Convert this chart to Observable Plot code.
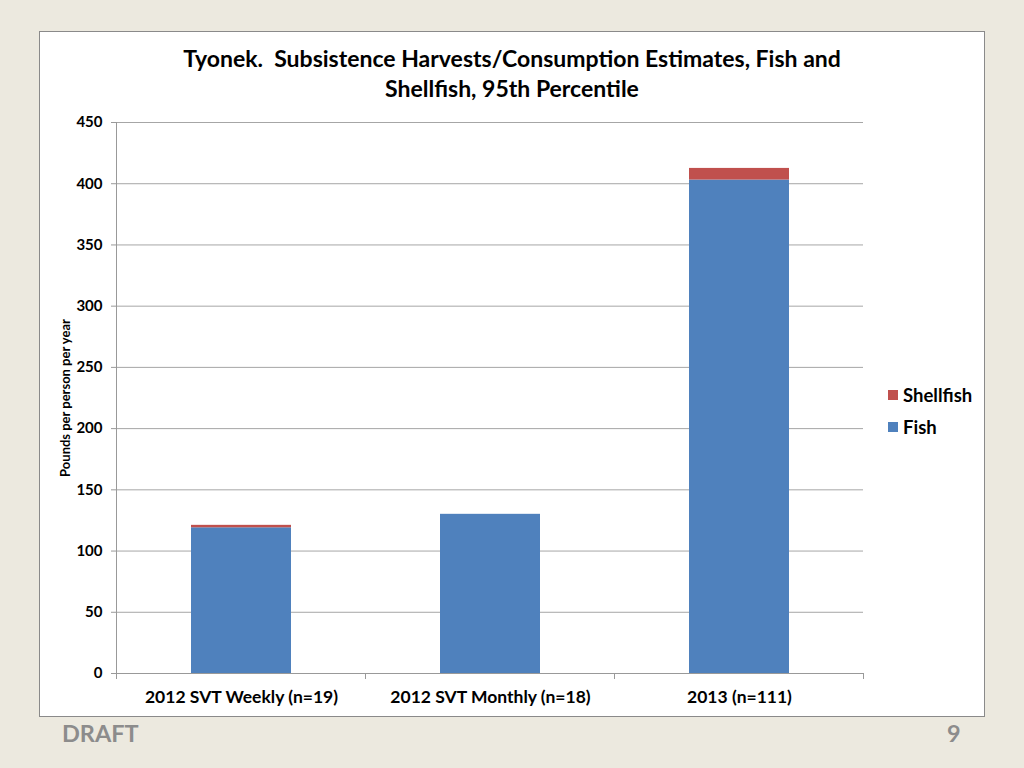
<!DOCTYPE html>
<html>
<head>
<meta charset="utf-8">
<script src="https://cdn.jsdelivr.net/npm/d3@7"></script>
<script src="https://cdn.jsdelivr.net/npm/@observablehq/plot@0.6"></script>
<style>
  html, body { margin: 0; padding: 0; }
  body { width: 1024px; height: 768px; background: #ECE9DF; position: relative; overflow: hidden; font-family: Lato, "Open Sans", sans-serif; }
  #box { position: absolute; left: 39px; top: 31px; width: 944px; height: 684px; background: #fff; border: 1px solid #8a8a8a; }
  #chart { position: absolute; left: 0; top: 0; }
  #title { position: absolute; left: 39px; width: 946px; top: 43px; text-align: center; font-weight: bold; font-size: 23px; line-height: 30px; color: #000; }
  #ylabel { position: absolute; left: 65px; top: 398px; transform: translate(-50%, -50%) rotate(-90deg); white-space: nowrap; font-weight: bold; font-size: 13px; color: #000; }
  .leg { position: absolute; left: 888px; font-weight: bold; font-size: 18.5px; color: #000; display: flex; align-items: center; }
  .leg span.sw { display: inline-block; width: 10px; height: 10px; margin-right: 5px; }
  #draft { position: absolute; left: 62px; top: 719px; font-weight: bold; font-size: 23.5px; color: #8c8c8c; }
  #page { position: absolute; left: 947px; top: 719px; font-weight: bold; font-size: 23.5px; color: #8c8c8c; }
</style>
</head>
<body>
<div id="box"></div>
<div id="title">Tyonek.&nbsp; Subsistence Harvests/Consumption Estimates, Fish and<br>Shellfish, 95th Percentile</div>
<div id="chart"></div>
<div id="ylabel">Pounds per person per year</div>
<div id="legend"></div>
<div id="draft">DRAFT</div>
<div id="page">9</div>
<script>
const categories = ["2012 SVT Weekly (n=19)", "2012 SVT Monthly (n=18)", "2013 (n=111)"];
const fish = [119, 130, 403];
const shellfish = [2, 0, 9.5];
const seriesNames = ["Fish", "Shellfish"];
const seriesColors = ["#4F81BD", "#C0504D"];
const yTicks = [0, 50, 100, 150, 200, 250, 300, 350, 400, 450];

const rows = [];
categories.forEach((c, i) => rows.push({category: c, series: "Fish", value: fish[i]}));
categories.forEach((c, i) => rows.push({category: c, series: "Shellfish", value: shellfish[i]}));

function axisLines(index, scales, values, dim) {
  const g = d3.create("svg:g").attr("stroke", "#999").attr("stroke-width", 1);
  const x0 = dim.marginLeft, x1 = dim.width - dim.marginRight;
  const yt = dim.marginTop, yb = dim.height - dim.marginBottom;
  g.append("line").attr("x1", x0 + 0.5).attr("x2", x0 + 0.5).attr("y1", yt).attr("y2", yb);
  g.append("line").attr("x1", x0).attr("x2", x1).attr("y1", yb + 0.5).attr("y2", yb + 0.5);
  const step = (x1 - x0) / categories.length;
  for (let i = 0; i <= categories.length; i++) {
    const x = Math.round(x0 + i * step) + 0.5;
    g.append("line").attr("x1", x).attr("x2", x).attr("y1", yb).attr("y2", yb + 6);
  }
  return g.node();
}

const plot = Plot.plot({
  width: 1024,
  height: 768,
  marginLeft: 116,
  marginRight: 161,
  marginTop: 122,
  marginBottom: 95,
  style: {background: "transparent", fontFamily: "Lato, 'Open Sans', sans-serif", color: "#000"},
  x: {domain: categories, paddingInner: 0.6, paddingOuter: 0.3, label: null},
  y: {domain: [0, 450], ticks: yTicks, label: null},
  color: {domain: seriesNames, range: seriesColors},
  marks: [
    Plot.ruleY(yTicks.filter(d => d > 0), {stroke: "#A6A6A6", strokeWidth: 1}),
    Plot.barY(rows, {x: "category", y: "value", fill: "series", order: seriesNames}),
    axisLines,
    Plot.axisY({ticks: yTicks, tickSize: 5, tickPadding: 9, stroke: "#999", fontSize: 15, fontWeight: "bold", label: null}),
    Plot.axisX({tickSize: 0, tickPadding: 17, fontSize: 17.5, fontWeight: "bold", label: null})
  ]
});
document.getElementById("chart").appendChild(plot);

const legend = document.getElementById("legend");
[["Shellfish", seriesColors[1], 395], ["Fish", seriesColors[0], 427]].forEach(([name, col, cy]) => {
  const d = document.createElement("div");
  d.className = "leg";
  d.style.top = (cy - 12) + "px";
  d.style.height = "24px";
  d.innerHTML = `<span class="sw" style="background:${col}"></span>${name}`;
  legend.appendChild(d);
});
</script>
</body>
</html>
